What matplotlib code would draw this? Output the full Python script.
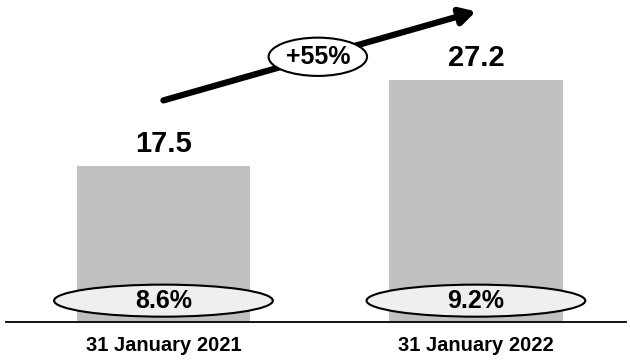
import matplotlib.pyplot as plt
from matplotlib.patches import Ellipse

dates = ["31 January 2021", "31 January 2022"]
values = [17.5, 27.2]
pct = ["8.6%", "9.2%"]
growth = "+55%"

plt.rcParams["font.family"] = ["Liberation Sans", "DejaVu Sans"]

fig = plt.figure(figsize=(6.3, 3.61), dpi=100)
ax = fig.add_axes([0, 0, 1, 1])
ax.set_xlim(-0.523, 1.493)
ax.set_ylim(-4.38, 36.18)
ax.axis("off")

x = list(range(len(values)))
ax.bar(x, values, width=0.554, color="#c0c0c0", zorder=1)
ax.plot([-0.505, 1.48], [0, 0], color="black", lw=1.3, zorder=2)

for xi, v, p, d in zip(x, values, pct, dates):
    ax.text(xi, v + 2.5, f"{v:.1f}", ha="center", va="center", fontsize=21, fontweight="bold")
    ax.add_patch(Ellipse((xi, 2.4), 0.70, 3.6, facecolor="#efefef", edgecolor="black", lw=1.5, zorder=3))
    ax.text(xi, 2.4, p, ha="center", va="center", fontsize=18, fontweight="bold", zorder=4)
    ax.text(xi, -2.6, d, ha="center", va="center", fontsize=14.5, fontweight="bold")

# growth arrow from above first bar to above second bar
ax.annotate("", xy=(1.0, 34.9), xytext=(0.0, 24.9),
            arrowprops=dict(arrowstyle="-|>,head_length=0.9,head_width=0.5", color="black", lw=4.5,
                            shrinkA=0, shrinkB=0))
ax.add_patch(Ellipse((0.494, 29.8), 0.315, 4.3, facecolor="white", edgecolor="black", lw=1.5, zorder=3))
ax.text(0.494, 29.8, growth, ha="center", va="center", fontsize=18, fontweight="bold", zorder=4)

fig.savefig("out.png", dpi=100)
